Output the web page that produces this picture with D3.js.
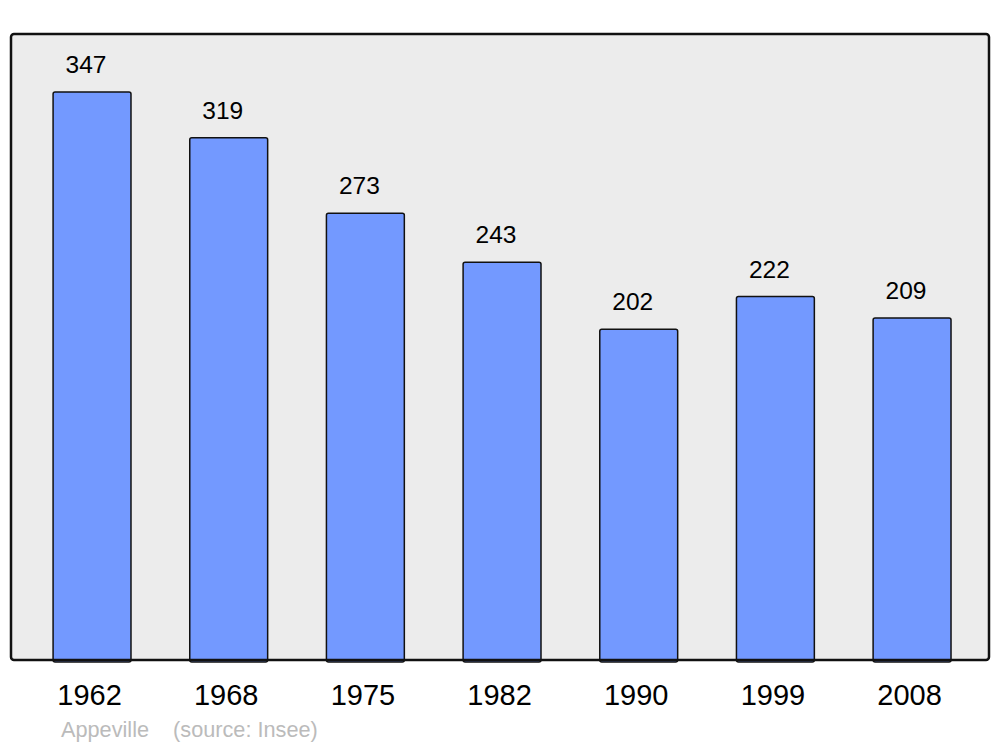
<!DOCTYPE html>
<html><head><meta charset="utf-8">
<script src="https://cdn.jsdelivr.net/npm/d3@7"></script>
<style>body{margin:0;background:#fff}svg{display:block}text{font-family:"Liberation Sans",Arial,sans-serif}</style>
</head><body>
<script>
const years = ["1962","1968","1975","1982","1990","1999","2008"];
const population = [347,319,273,243,202,222,209];
const footer = "Appeville    (source: Insee)";

const W = 1000, H = 747;
const svg = d3.select("body").append("svg").attr("width", W).attr("height", H);

const frame = {x0: 11, y0: 34, x1: 989, y1: 660};
svg.append("rect").attr("x", frame.x0).attr("y", frame.y0)
  .attr("width", frame.x1 - frame.x0).attr("height", frame.y1 - frame.y0)
  .attr("rx", 3).attr("fill", "#ececec").attr("stroke", "none");

const x = d3.scaleBand().domain(years).range([23.7, 980.4]).paddingInner(0.43).paddingOuter(0.215);
const y = d3.scaleLinear().domain([0, 347]).range([frame.y1, 92]);

svg.selectAll("rect.bar").data(years).join("rect").attr("class","bar")
  .attr("x", d => x(d)).attr("width", x.bandwidth())
  .attr("y", (d,i) => y(population[i])).attr("height", (d,i) => frame.y1 - y(population[i]) + 2)
  .attr("rx", 2).attr("fill", "#7399ff").attr("stroke", "#111").attr("stroke-width", 1.5);

svg.selectAll("text.val").data(years).join("text").attr("class","val")
  .attr("x", d => x(d) + x.bandwidth()/2 - 6).attr("y", (d,i) => y(population[i]) - 19)
  .attr("text-anchor","middle").attr("font-size", 24.5).attr("fill","#000")
  .text((d,i) => population[i]);

svg.append("rect").attr("x", frame.x0).attr("y", frame.y0)
  .attr("width", frame.x1 - frame.x0).attr("height", frame.y1 - frame.y0)
  .attr("rx", 3).attr("fill", "none").attr("stroke", "#111").attr("stroke-width", 2.5);

const xAxis = d3.axisBottom(x).tickSize(0).tickPadding(0);
const gx = svg.append("g").attr("transform", `translate(-2.5,${frame.y1})`).call(xAxis);
gx.select(".domain").remove();
gx.selectAll("text").attr("font-size", 29).attr("fill","#000")
  .attr("font-family", '"Liberation Sans",Arial,sans-serif')
  .attr("dy", null).attr("y", 45);

svg.append("text").attr("x", 61).attr("y", 737).attr("font-size", 21.7).attr("fill", "#bbb")
  .attr("xml:space","preserve").style("white-space","pre").text(footer);
</script>
</body></html>
